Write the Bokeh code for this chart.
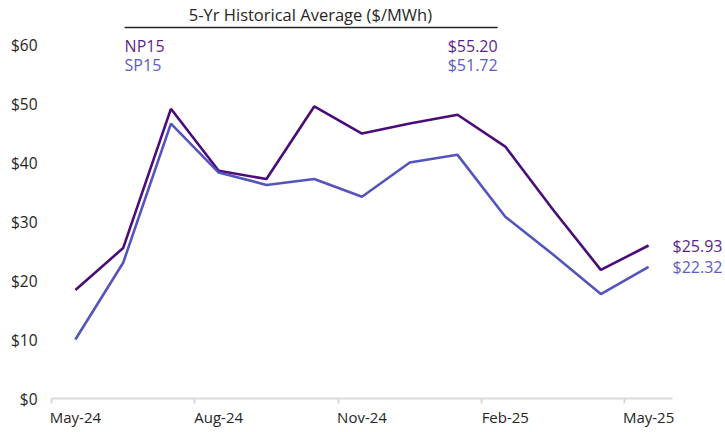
from bokeh.plotting import figure
from bokeh.models import Range1d, FixedTicker, Label
from bokeh.embed import file_html
from bokeh.resources import INLINE

months = ["May-24", "Jun-24", "Jul-24", "Aug-24", "Sep-24", "Oct-24", "Nov-24",
          "Dec-24", "Jan-25", "Feb-25", "Mar-25", "Apr-25", "May-25"]
np15 = [18.4, 25.5, 49.1, 38.6, 37.2, 49.5, 44.9, 46.6, 48.1, 42.7, 32.0, 21.8, 25.93]
sp15 = [10.0, 23.0, 46.6, 38.3, 36.2, 37.2, 34.2, 40.0, 41.3, 30.8, 24.4, 17.7, 22.32]
avg_np15 = 55.20
avg_sp15 = 51.72
y_ticks = [0, 10, 20, 30, 40, 50, 60]
x_label_idx = [0, 3, 6, 9, 12]

FONT = "Open Sans"
NP_LINE = "#4B0C7A"
SP_LINE = "#5454BE"
NP_TEXT = "#5E1F8E"
SP_TEXT = "#5C5CC6"

x = list(range(len(months)))

p = figure(width=725, height=432, output_backend="svg", toolbar_location=None,
           x_range=Range1d(-0.5, 13.61), y_range=Range1d(0, 67.46),
           min_border_left=51, min_border_right=0, min_border_top=0, min_border_bottom=34)
p.outline_line_color = None
p.grid.visible = False
p.background_fill_color = "white"
p.border_fill_color = "white"

p.line(x, np15, line_color=NP_LINE, line_width=2.6)
p.line(x, sp15, line_color=SP_LINE, line_width=2.6)

# x axis
xa = p.xaxis[0]
xa.ticker = FixedTicker(ticks=x_label_idx, minor_ticks=[i - 0.5 for i in x_label_idx])
xa.major_label_overrides = {i: months[i] for i in x_label_idx}
xa.bounds = (-0.5, 12.5)
xa.axis_line_color = "#D9D9D9"
xa.axis_line_width = 2
xa.major_tick_line_color = None
xa.major_tick_out = 0
xa.major_tick_in = 0
xa.minor_tick_line_color = "#D9D9D9"
xa.minor_tick_line_width = 2
xa.minor_tick_out = 5
xa.minor_tick_in = 0
xa.major_label_text_font = FONT
xa.major_label_text_font_size = "15px"
xa.major_label_text_color = "#262626"
xa.major_label_standoff = 3

# y axis
ya = p.yaxis[0]
ya.ticker = FixedTicker(ticks=y_ticks, minor_ticks=[])
ya.major_label_overrides = {v: f"${v}" for v in y_ticks}
ya.axis_line_color = None
ya.major_tick_line_color = None
ya.minor_tick_line_color = None
ya.major_tick_in = 0
ya.major_tick_out = 0
ya.major_label_text_font = FONT
ya.major_label_text_font_size = "15.5px"
ya.major_label_text_color = "#262626"
ya.major_label_standoff = 14

# end labels
p.add_layout(Label(x=12.5, y=np15[-1], text=f"${np15[-1]:.2f}", text_font=FONT,
                   text_font_size="16px", text_color=NP_TEXT, text_baseline="middle"))
p.add_layout(Label(x=12.5, y=sp15[-1], text=f"${sp15[-1]:.2f}", text_font=FONT,
                   text_font_size="16px", text_color=SP_TEXT, text_baseline="middle"))

# header block (5-yr average)
hx0, hx1, hxc = 1.03, 8.84, 4.92
p.add_layout(Label(x=hxc, y=65.08, text="5-Yr Historical Average ($/MWh)", text_font=FONT,
                   text_font_size="16.5px", text_color="#262626", text_align="center", text_baseline="middle"))
p.segment(x0=[hx0], y0=[62.88], x1=[hx1], y1=[62.88], line_color="#262626", line_width=1.5)
p.add_layout(Label(x=hx0, y=59.83, text="NP15", text_font=FONT, text_font_size="16px",
                   text_color=NP_TEXT, text_baseline="middle"))
p.add_layout(Label(x=hx0, y=56.6, text="SP15", text_font=FONT, text_font_size="16px",
                   text_color=SP_TEXT, text_baseline="middle"))
p.add_layout(Label(x=hx1, y=59.83, text=f"${avg_np15:.2f}", text_font=FONT, text_font_size="16px",
                   text_color=NP_TEXT, text_align="right", text_baseline="middle"))
p.add_layout(Label(x=hx1, y=56.6, text=f"${avg_sp15:.2f}", text_font=FONT, text_font_size="16px",
                   text_color=SP_TEXT, text_align="right", text_baseline="middle"))

open("out.html", "w").write(file_html(p, INLINE))
